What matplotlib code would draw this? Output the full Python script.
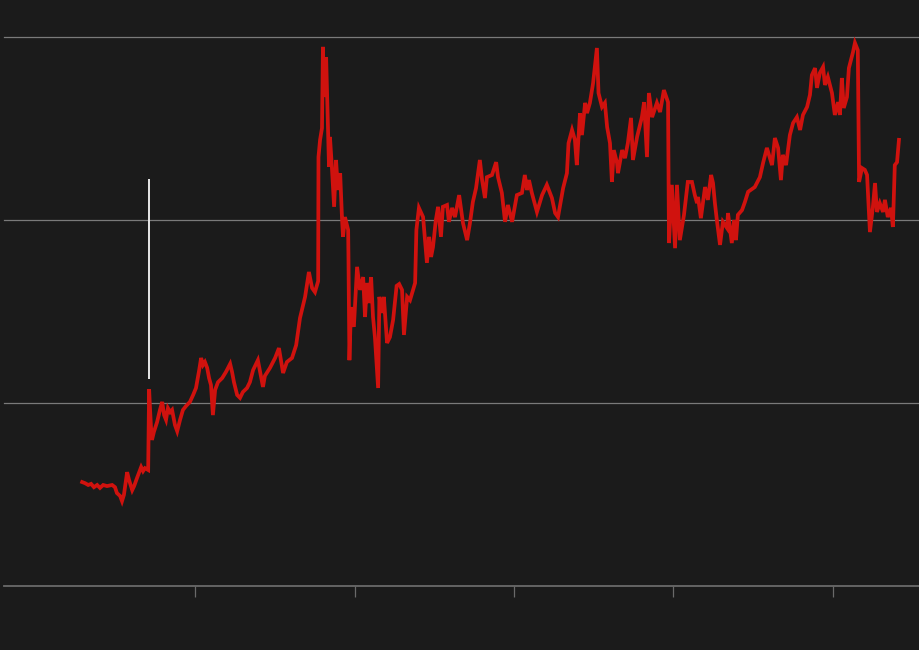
import matplotlib
matplotlib.use("Agg")
import matplotlib.pyplot as plt

# Time axis (decimal years) and series values
years = [
    1996.46, 1996.55, 1996.65, 1996.74, 1996.83, 1996.93, 1997.02, 1997.12, 1997.24, 1997.40,
    1997.49, 1997.55, 1997.65, 1997.71, 1997.77, 1997.87, 1997.93, 1998.03, 1998.09, 1998.18,
    1998.31, 1998.37, 1998.43, 1998.53, 1998.56, 1998.59, 1998.62, 1998.65, 1998.71, 1998.81,
    1998.90, 1998.97, 1999.03, 1999.09, 1999.15, 1999.22, 1999.28, 1999.37, 1999.44, 1999.53,
    1999.62, 1999.72, 1999.84, 1999.94, 2000.03, 2000.13, 2000.19, 2000.25, 2000.31, 2000.38,
    2000.44, 2000.50, 2000.56, 2000.63, 2000.72, 2000.85, 2000.97, 2001.10, 2001.16, 2001.22,
    2001.32, 2001.41, 2001.50, 2001.63, 2001.72, 2001.82, 2001.97, 2002.04, 2002.13, 2002.19,
    2002.35, 2002.51, 2002.63, 2002.76, 2002.88, 2003.04, 2003.17, 2003.29, 2003.45, 2003.57,
    2003.67, 2003.76, 2003.86, 2003.87, 2003.92, 2003.98, 2004.01, 2004.04, 2004.11, 2004.17,
    2004.20, 2004.23, 2004.29, 2004.36, 2004.42, 2004.48, 2004.55, 2004.61, 2004.64, 2004.70,
    2004.80, 2004.81, 2004.84, 2004.89, 2004.98, 2005.08, 2005.17, 2005.27, 2005.33, 2005.39,
    2005.45, 2005.52, 2005.58, 2005.64, 2005.74, 2005.78, 2005.86, 2005.92, 2006.02, 2006.11,
    2006.21, 2006.32, 2006.40, 2006.49, 2006.55, 2006.65, 2006.74, 2006.90, 2006.94, 2007.02,
    2007.15, 2007.21, 2007.27, 2007.34, 2007.40, 2007.46, 2007.55, 2007.62, 2007.71, 2007.77,
    2007.90, 2007.96, 2008.06, 2008.15, 2008.28, 2008.40, 2008.53, 2008.62, 2008.71, 2008.81,
    2008.93, 2009.00, 2009.09, 2009.15, 2009.31, 2009.44, 2009.50, 2009.62, 2009.72, 2009.81,
    2009.94, 2010.09, 2010.25, 2010.34, 2010.41, 2010.47, 2010.56, 2010.72, 2010.88, 2011.03,
    2011.19, 2011.29, 2011.38, 2011.54, 2011.66, 2011.71, 2011.82, 2011.91, 2011.97, 2012.07,
    2012.13, 2012.23, 2012.29, 2012.38, 2012.48, 2012.60, 2012.65, 2012.76, 2012.85, 2012.92,
    2013.01, 2013.07, 2013.13, 2013.23, 2013.26, 2013.39, 2013.48, 2013.57, 2013.67, 2013.73,
    2013.86, 2014.01, 2014.08, 2014.17, 2014.23, 2014.33, 2014.48, 2014.58, 2014.70, 2014.83,
    2014.86, 2014.95, 2015.05, 2015.11, 2015.20, 2015.33, 2015.45, 2015.58, 2015.67, 2015.74,
    2015.77, 2015.86, 2015.99, 2016.08, 2016.18, 2016.24, 2016.30, 2016.36, 2016.46, 2016.55,
    2016.68, 2016.71, 2016.83, 2016.90, 2016.96, 2017.02, 2017.15, 2017.24, 2017.34, 2017.55,
    2017.71, 2017.81, 2017.93, 2018.09, 2018.18, 2018.28, 2018.37, 2018.43, 2018.53, 2018.65,
    2018.75, 2018.87, 2018.97, 2019.06, 2019.19, 2019.28, 2019.34, 2019.44, 2019.50, 2019.59,
    2019.69, 2019.75, 2019.84, 2019.97, 2020.06, 2020.16, 2020.22, 2020.28, 2020.34, 2020.44,
    2020.50, 2020.63, 2020.69, 2020.78, 2020.82, 2020.91, 2021.00, 2021.07, 2021.16, 2021.25,
    2021.32, 2021.38, 2021.47, 2021.57, 2021.63, 2021.72, 2021.82, 2021.88, 2021.94, 2022.01,
    2022.07,
]

values = [
    28.4, 28.1, 27.6, 27.9, 27.0, 27.6, 26.8, 27.6, 27.3, 27.6,
    27.0, 25.4, 24.6, 23.2, 24.9, 31.1, 29.0, 26.2, 27.3, 29.5,
    32.5, 31.4, 32.2, 31.7, 53.8, 48.1, 43.2, 39.9, 42.1, 44.8,
    48.1, 50.3, 46.7, 45.4, 48.6, 47.5, 48.1, 44.0, 42.3, 45.4,
    48.1, 49.2, 50.3, 52.2, 54.1, 59.0, 62.3, 60.4, 61.2, 59.6,
    56.8, 54.9, 46.7, 53.6, 55.7, 56.8, 58.5, 60.7, 58.5, 55.7,
    52.2, 51.4, 53.0, 54.1, 55.7, 59.0, 61.7, 58.5, 54.4, 57.4,
    59.6, 62.3, 65.0, 58.2, 61.2, 62.3, 65.8, 73.2, 79.0, 85.8,
    81.4, 80.3, 83.3, 117.2, 121.9, 125.1, 147.3, 133.6, 144.5, 124.6,
    114.5, 122.7, 114.5, 103.6, 116.4, 108.2, 112.8, 100.0, 95.4, 100.8,
    97.3, 89.9, 61.7, 76.2, 70.8, 87.2, 80.9, 84.4, 73.5, 82.8,
    77.3, 84.4, 73.5, 68.0, 54.1, 79.0, 74.6, 79.0, 66.4, 68.0,
    72.7, 82.0, 82.5, 80.9, 68.6, 79.0, 78.1, 82.8, 97.3, 103.3,
    100.8, 94.5, 88.3, 95.4, 89.9, 92.6, 100.0, 103.6, 95.4, 103.6,
    104.1, 99.5, 103.3, 100.8, 106.8, 99.2, 94.5, 99.2, 104.9, 108.7,
    116.4, 110.9, 106.0, 111.7, 112.3, 115.8, 111.7, 107.4, 99.5, 104.1,
    99.5, 106.8, 107.4, 112.3, 108.2, 110.9, 107.4, 102.2, 106.8, 109.6,
    106.0, 101.9, 100.8, 108.7, 112.8, 121.0, 124.6, 121.9, 115.0, 129.2,
    123.2, 132.0, 129.2, 132.0, 137.4, 147.0, 134.7, 130.9, 132.0, 125.4,
    121.0, 110.4, 119.1, 115.6, 112.8, 119.1, 116.9, 121.0, 127.9, 116.4,
    122.7, 128.1, 132.2, 117.2, 134.7, 128.1, 132.0, 129.5, 135.5, 132.2,
    93.7, 109.6, 92.3, 109.6, 94.5, 101.4, 110.4, 110.4, 106.8, 104.6,
    106.3, 100.5, 109.0, 105.5, 112.3, 110.1, 104.6, 100.0, 93.2, 99.5,
    97.8, 101.9, 93.7, 100.0, 94.5, 101.4, 102.7, 104.9, 107.7, 109.0,
    111.7, 115.6, 119.7, 115.0, 122.4, 119.7, 110.9, 117.8, 115.0, 123.2,
    126.5, 128.1, 124.6, 128.7, 130.9, 134.2, 139.6, 141.5, 136.1, 140.2,
    141.8, 136.9, 139.1, 134.7, 128.7, 132.2, 128.7, 138.8, 130.6, 133.6,
    141.5, 145.9, 148.4, 146.4, 110.4, 114.2, 113.7, 112.3, 96.7, 103.3,
    110.1, 102.2, 104.6, 102.2, 105.5, 100.8, 103.3, 98.1, 115.0, 115.8,
    121.9,
]

grid_levels = [0, 50, 100, 150]
tick_years = [2000, 2005, 2010, 2015, 2020]
marker_year = 1998.56
marker_span = (56.6, 111.2)

bg = "#1b1b1b"
fig = plt.figure(figsize=(9.2, 6.5), dpi=100, facecolor=bg)
ax = fig.add_axes([4 / 920, 64 / 650, 916 / 920, 549 / 650], facecolor=bg)

for lvl in grid_levels[1:]:
    ax.axhline(lvl, color="#7a7a7a", lw=0.9, clip_on=False, zorder=1)

ax.vlines(marker_year, *marker_span, color="#e8e8e8", lw=1.4, zorder=2)
ax.plot(years, values, color="#d0120e", lw=2.7, solid_joinstyle="miter", zorder=3)

ax.set_xlim(1994.01, 2022.73)
ax.set_ylim(0, 150)

for side in ["top", "right", "left"]:
    ax.spines[side].set_visible(False)
ax.spines["bottom"].set_color("#6a6a6a")
ax.spines["bottom"].set_linewidth(1.3)

ax.set_xticks(tick_years)
ax.set_xticklabels([])
ax.set_yticks([])
ax.tick_params(axis="x", direction="out", length=8, width=0.9, color="#6a6a6a")

fig.savefig("out.png", dpi=100, facecolor=bg)
